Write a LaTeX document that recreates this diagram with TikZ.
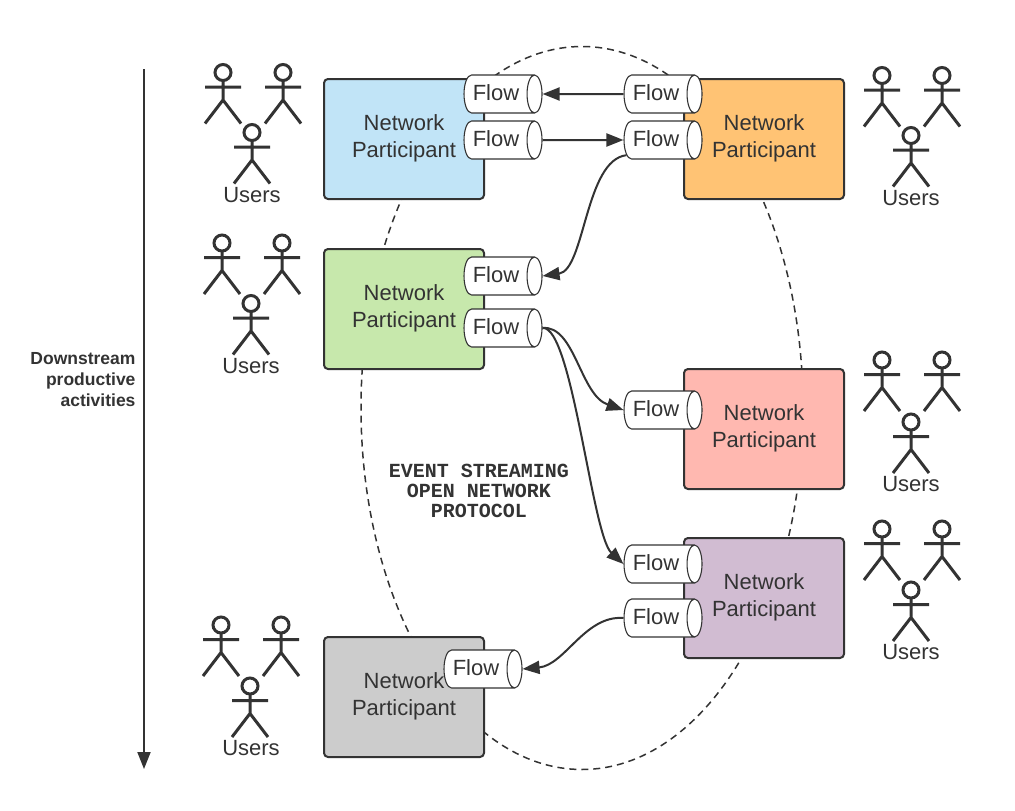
\documentclass[tikz,border=0pt]{standalone}
\usepackage{fontspec}
\setmainfont{Liberation Sans}
\setmonofont{Liberation Mono}
\usepackage{xcolor}
\usetikzlibrary{arrows.meta,shapes.geometric}
\definecolor{ink}{RGB}{51,51,51}
\definecolor{partblue}{RGB}{193,228,247}
\definecolor{partorange}{RGB}{255,195,116}
\definecolor{partgreen}{RGB}{199,232,172}
\definecolor{partred}{RGB}{255,184,176}
\definecolor{partpurple}{RGB}{209,188,210}
\definecolor{partgray}{RGB}{204,204,204}

\begin{document}
\begin{tikzpicture}[
    x=1pt, y=-1pt,
    participant/.style={draw=ink, line width=2pt, rounded corners=4pt, minimum width=160pt, minimum height=120pt,
        align=center, text=ink, text depth=6pt, font=\fontsize{22}{27}\selectfont},
    flowcyl/.style={cylinder, shape aspect=0.79, draw=ink, fill=white, line width=1.1pt, minimum width=38pt, minimum height=78pt,
        inner sep=0pt, text=ink, text depth=3pt, font=\fontsize{22}{27}\selectfont, execute at end node=\hspace*{6pt}},
    users/.style={text=ink, font=\fontsize{22}{27}\selectfont},
    link/.style={draw=ink, line width=2pt, -{Triangle[length=17pt,width=13pt]}},
    person/.pic={
        \draw[ink, line width=3pt] (0,0) circle (8);
        \draw[ink, line width=3pt] (0,8) -- (0,27.5) (-18,14.5) -- (18,14.5) (-18,51) -- (0,27.5) -- (18,51);
    }
]
\useasboundingbox (0,0) rectangle (1015,811);

% Protocol ring
\node[ellipse, draw=ink, line width=1.5pt, dash pattern=on 7pt off 5pt, minimum width=442pt, minimum height=723pt] (ring) at (582,408) {};

% Participants
\node[participant, fill=partblue] (blue) at (404,139) {Network\\Participant};
\node[participant, fill=partorange] (orange) at (764,139) {Network\\Participant};
\node[participant, fill=partgreen] (green) at (404,309) {Network\\Participant};
\node[participant, fill=partred] (red) at (764,429) {Network\\Participant};
\node[participant, fill=partpurple] (purple) at (764,598) {Network\\Participant};
\node[participant, fill=partgray] (gray) at (404,697) {Network\\Participant};

% Flows
\node[flowcyl] (blueA) at (499,94) {Flow};
\node[flowcyl] (blueB) at (499,140) {Flow};
\node[flowcyl] (orangeA) at (659,94) {Flow};
\node[flowcyl] (orangeB) at (659,140) {Flow};
\node[flowcyl] (greenA) at (499,276) {Flow};
\node[flowcyl] (greenB) at (499,328) {Flow};
\node[flowcyl] (redA) at (659,410) {Flow};
\node[flowcyl] (purpleA) at (659,564) {Flow};
\node[flowcyl] (purpleB) at (659,618) {Flow};
\node[flowcyl] (grayA) at (479,669) {Flow};

% Users
\foreach \px/\py in {223/72.5, 283/72.5, 252/132.5, 222/243, 282/243, 251/303.5, 882/75.5, 942/75.5, 911/135.5,
    882/360, 942/360, 911/422, 882/529, 942/529, 911/590, 221/625, 281/625, 250/686}
    \pic at (\px,\py) {person};
\node[users] (usersBlue) at (252,195) {Users};
\node[users] (usersGreen) at (251,366) {Users};
\node[users] (usersOrange) at (911,198) {Users};
\node[users] (usersRed) at (911,484) {Users};
\node[users] (usersPurple) at (911,652) {Users};
\node[users] (usersGray) at (251,748) {Users};

% Links
\draw[link] (orangeA.west) -- (blueA.east);
\draw[link] (blueB.east) -- (orangeB.west);
\draw[link] (orangeB.205) .. controls (585,160) and (585,270) .. (greenA.east);
\draw[link] (greenB.east) .. controls (575,325) and (580,395) .. (redA.west);
\draw[link] (greenB.east) .. controls (572,325) and (592,535) .. (purpleA.west);
\draw[link] (purpleB.west) .. controls (585,615) and (565,665) .. (grayA.east);

% Time axis
\coordinate (axisTop) at (144,69);
\coordinate (axisEnd) at (144,769);
\draw[link] (axisTop) -- (axisEnd);
\node[anchor=east, align=right, text=ink, font=\fontsize{17.5}{21}\selectfont\bfseries] (axisLabel) at (139,380) {Downstream\\productive\\activities};

\node[align=center, text=ink, font=\fontsize{20}{20}\selectfont\ttfamily\bfseries] (protocol) at (479,491) {EVENT STREAMING\\OPEN NETWORK\\PROTOCOL};
\end{tikzpicture}
\end{document}
